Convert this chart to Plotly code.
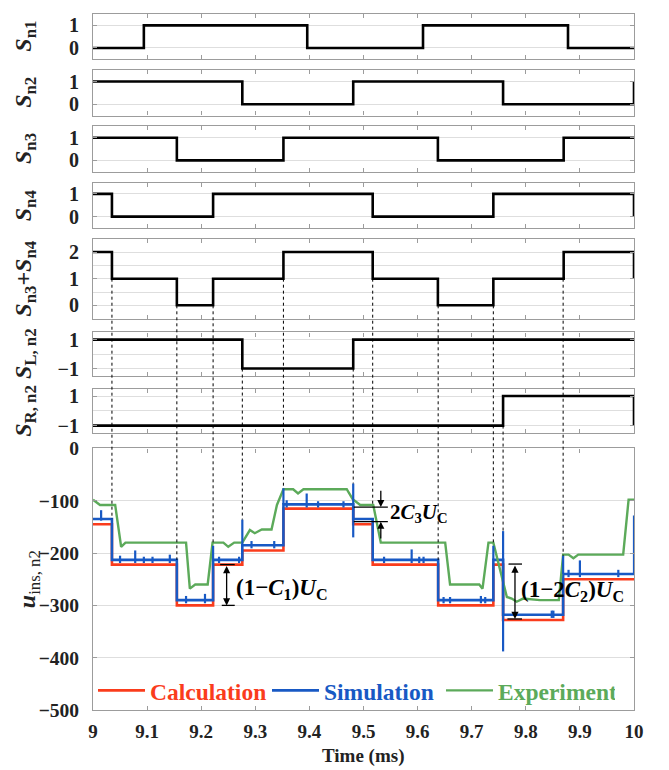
import plotly.graph_objects as go

# ---------------- data ----------------
t_sn1 = [9, 9.094, 9.396, 9.610, 9.878, 10]
v_sn1 = [0, 1, 0, 1, 0, 0]
t_sn2 = [9, 9.276, 9.481, 9.758, 10, 10]
v_sn2 = [1, 0, 1, 0, 0, 1]
t_sn3 = [9, 9.155, 9.352, 9.6375, 9.870, 10]
v_sn3 = [1, 0, 1, 0, 1, 1]
t_sn4 = [9, 9.035, 9.222, 9.517, 9.740, 10, 10]
v_sn4 = [1, 0, 1, 0, 1, 1, 0]
t_sum = [9, 9.035, 9.155, 9.222, 9.352, 9.517, 9.6375, 9.740, 9.870, 10, 10]
v_sum = [2, 1, 0, 1, 2, 1, 0, 1, 2, 2, 1]
t_sl = [9, 9.276, 9.481, 10]
v_sl = [1, -1, 1, 1]
t_sr = [9, 9.758, 10, 10]
v_sr = [-1, 1, 1, -1]

t_calc = [9, 9.035, 9.155, 9.222, 9.276, 9.352, 9.481, 9.517, 9.638, 9.740, 9.758, 9.869, 10]
v_calc = [-145, -222, -300, -222, -195, -115, -145, -222, -300, -222, -328, -250, -250]
t_sim = [9, 9.035, 9.155, 9.222, 9.276, 9.352, 9.481, 9.517, 9.638, 9.740, 9.758, 9.869, 10]
v_sim = [-135, -213, -290, -213, -185, -107, -135, -213, -290, -213, -318, -240, -240]
# simulation spikes (time, low, high)
spk_t = [9.015, 9.05, 9.078, 9.094, 9.110, 9.142, 9.172, 9.207, 9.222, 9.233, 9.270, 9.276,
         9.293, 9.335, 9.352, 9.358, 9.395, 9.416, 9.463, 9.481, 9.538, 9.589, 9.603, 9.611,
         9.648, 9.660, 9.717, 9.725, 9.740, 9.758, 9.848, 9.851, 9.869, 9.879, 9.900, 9.971, 10]
spk_lo = [-138, -219, -219, -219, -219, -219, -296, -296, -213, -219, -219, -185,
          -191, -191, -107, -113, -113, -113, -113, -170, -219, -219, -219, -219,
          -296, -296, -296, -296, -213, -388, -324, -324, -240, -246, -246, -246, -240]
spk_hi = [-118, -205, -195, -207, -207, -203, -282, -278, -186, -207, -207, -136,
          -177, -177, -76, -99, -86, -101, -101, -67, -207, -193, -207, -207,
          -284, -284, -282, -284, -186, -158, -310, -310, -205, -232, -214, -232, -128]

t_exp = [9, 9.013, 9.041, 9.052, 9.060, 9.172, 9.179, 9.189, 9.212, 9.221, 9.241, 9.250,
         9.261, 9.276, 9.290, 9.299, 9.312, 9.330, 9.340, 9.352, 9.370, 9.379, 9.389, 9.469,
         9.480, 9.494, 9.518, 9.532, 9.651, 9.660, 9.714, 9.720, 9.731, 9.740, 9.765, 9.774,
         9.783, 9.795, 9.826, 9.861, 9.869, 9.879, 9.888, 9.897, 9.980, 9.990, 10]
v_exp = [-98, -108, -108, -188, -180, -180, -268, -260, -260, -180, -180, -188,
         -180, -180, -156, -162, -155, -155, -108, -78, -78, -86, -78, -78,
         -97, -108, -108, -180, -180, -260, -260, -268, -180, -180, -284, -287,
         -293, -287, -290, -290, -203, -203, -210, -203, -203, -98, -98]

# dotted guide lines: time, start panel, start level, end level in bottom panel
guide_t = [9.035, 9.155, 9.222, 9.276, 9.352, 9.481, 9.517, 9.638, 9.740, 9.758, 9.869]
guide_panel = [5, 5, 5, 6, 5, 6, 5, 5, 5, 7, 5]
guide_start = [1, 0, 0, -1, 1, -1, 1, 0, 0, -1, 1]
guide_end = [-135, -213, -185, -136, -76, -67, -106, -213, -180, -158, -205]

x_ticks = [9, 9.1, 9.2, 9.3, 9.4, 9.5, 9.6, 9.7, 9.8, 9.9, 10]
x_ticktext = ["9", "9.1", "9.2", "9.3", "9.4", "9.5", "9.6", "9.7", "9.8", "9.9", "10"]

# ---------------- layout helpers ----------------
W, H = 669, 770
ML, MR, MT, MB = 93, 35, 3, 60
PW = W - ML - MR
PH = H - MT - MB
BOT = H - MB


def dom(top_px, bot_px):
    return [(BOT - bot_px) / PH, (BOT - top_px) / PH]


def py(px):
    return (BOT - px) / PH


def pxx(px):
    return (px - ML) / PW


panels = [
    dict(dom=dom(4, 50), rng=[-0.5, 1.5], tv=[0, 1], tt=["0", "1"], grid=[0, 1],
         title="<i>S</i><sub>n1</sub>"),
    dict(dom=dom(61, 107), rng=[-0.5, 1.5], tv=[0, 1], tt=["0", "1"], grid=[0, 1],
         title="<i>S</i><sub>n2</sub>"),
    dict(dom=dom(118, 164), rng=[-0.5, 1.5], tv=[0, 1], tt=["0", "1"], grid=[0, 1],
         title="<i>S</i><sub>n3</sub>"),
    dict(dom=dom(175, 221), rng=[-0.5, 1.5], tv=[0, 1], tt=["0", "1"], grid=[0, 1],
         title="<i>S</i><sub>n4</sub>"),
    dict(dom=dom(232, 313), rng=[-0.5, 2.5], tv=[0, 1, 2], tt=["0", "1", "2"],
         grid=[0, 0.5, 1, 1.5, 2],
         title="<i>S</i><sub>n3</sub>+<i>S</i><sub>n4</sub>"),
    dict(dom=dom(327, 371), rng=[-1.5, 1.5], tv=[-1, 1], tt=["\u22121", "1"], grid=[-1, 0, 1],
         title="<i>S</i><sub>L, n2</sub>"),
    dict(dom=dom(384, 429), rng=[-1.5, 1.5], tv=[-1, 1], tt=["\u22121", "1"], grid=[-1, 0, 1],
         title="<i>S</i><sub>R, n2</sub>"),
    dict(dom=dom(444.7, 710), rng=[-500, 0], tv=[-500, -400, -300, -200, -100, 0],
         tt=["\u2212500", "\u2212400", "\u2212300", "\u2212200", "\u2212100", "0"],
         grid=[-400, -300, -200, -100],
         title="<i>u</i><sub><span style='font-weight:normal'>ins, n2</span></sub>"),
]


def to_paper(p, v):
    d = panels[p - 1]["dom"]
    r = panels[p - 1]["rng"]
    return d[0] + (v - r[0]) / (r[1] - r[0]) * (d[1] - d[0])


FONT = "Liberation Serif"
FRAME = "#9c9c9c"
GRID = "#dedede"
RED = "#fa3c1c"
BLUE = "#1859c4"
GREEN = "#5caa5a"
TXT = "#222222"

fig = go.Figure()

sig = [(t_sn1, v_sn1), (t_sn2, v_sn2), (t_sn3, v_sn3), (t_sn4, v_sn4),
       (t_sum, v_sum), (t_sl, v_sl), (t_sr, v_sr)]
for i, (tt, vv) in enumerate(sig, start=1):
    fig.add_trace(go.Scatter(x=tt, y=vv, mode="lines", line=dict(color="black", width=2.6, shape="hv"),
                             xaxis=f"x{i}", yaxis=f"y{i}", showlegend=False, hoverinfo="skip"))

fig.add_trace(go.Scatter(x=t_calc, y=v_calc, mode="lines", name=f'<span style="color:{RED}">Calculation</span>',
                         line=dict(color=RED, width=2.6, shape="hv"), xaxis="x8", yaxis="y8"))
fig.add_trace(go.Scatter(x=t_sim, y=v_sim, mode="lines", name=f'<span style="color:{BLUE}">Simulation</span>',
                         line=dict(color=BLUE, width=2.6, shape="hv"), xaxis="x8", yaxis="y8"))
fig.add_trace(go.Scatter(x=t_exp, y=v_exp, mode="lines", name=f'<span style="color:{GREEN}">Experiment</span>',
                         line=dict(color=GREEN, width=2.4), xaxis="x8", yaxis="y8"))
sx, sy = [], []
for t, lo, hi in zip(spk_t, spk_lo, spk_hi):
    sx += [t, t, None]
    sy += [lo, hi, None]
fig.add_trace(go.Scatter(x=sx, y=sy, mode="lines", line=dict(color=BLUE, width=2.2),
                         xaxis="x8", yaxis="y8", showlegend=False, hoverinfo="skip"))

layout = dict(width=W, height=H, margin=dict(l=ML, r=MR, t=MT, b=MB),
              plot_bgcolor="white", paper_bgcolor="white",
              font=dict(family=FONT, color=TXT, weight="bold"), showlegend=True)

for i, p in enumerate(panels, start=1):
    last = i == len(panels)
    layout[f"xaxis{i}" if i > 1 else "xaxis"] = dict(
        domain=[0, 1], range=[9, 10], anchor=f"y{i}", tickvals=x_ticks, ticktext=x_ticktext,
        showticklabels=last, ticks="inside", ticklen=4, tickcolor=FRAME, showline=True,
        linecolor=FRAME, linewidth=1.2, mirror="ticks", showgrid=False, zeroline=False,
        tickfont=dict(family=FONT, size=19, color=TXT, weight="bold"), ticklabelstandoff=4,
    )
    layout[f"yaxis{i}" if i > 1 else "yaxis"] = dict(
        domain=p["dom"], range=p["rng"], anchor=f"x{i}", tickvals=p["tv"], ticktext=p["tt"],
        ticks="inside", ticklen=4, tickcolor=FRAME, showline=True, linecolor=FRAME, linewidth=1.2,
        mirror="ticks", showgrid=False, zeroline=False,
        tickfont=dict(family=FONT, size=20 if not last else 19.5, color=TXT, weight="bold"),
        ticklabelstandoff=9,
        minor=dict(tickvals=p["grid"], showgrid=True, gridcolor=GRID, gridwidth=1, ticks=""),
    )

layout["legend"] = dict(orientation="h", x=0, xanchor="left", y=to_paper(8, -463), yanchor="middle",
                        bgcolor="rgba(0,0,0,0)", font=dict(family=FONT, size=23.5, weight="bold"),
                        entrywidth=112, entrywidthmode="pixels", itemwidth=47, traceorder="normal")

shapes = []
for t, p, s, e in zip(guide_t, guide_panel, guide_start, guide_end):
    shapes.append(dict(type="line", xref="x8", yref="paper", x0=t, x1=t, y0=to_paper(p, s), y1=to_paper(8, e),
                       line=dict(color="black", width=1, dash="dot"), layer="above"))
# arrow caps / reference lines
cap = dict(type="line", xref="x8", yref="y8", line=dict(color="black", width=1.3), layer="above")
shapes += [
    dict(cap, x0=9.235, x1=9.262, y0=-222, y1=-222),
    dict(cap, x0=9.238, x1=9.262, y0=-300, y1=-300),
    dict(cap, x0=9.482, x1=9.545, y0=-112, y1=-112),
    dict(cap, x0=9.482, x1=9.545, y0=-140, y1=-140),
    dict(cap, x0=9.768, x1=9.793, y0=-221, y1=-221),
    dict(cap, x0=9.766, x1=9.793, y0=-326, y1=-326),
]
layout["shapes"] = shapes

ann = []
for i, p in enumerate(panels, start=1):
    mid = (p["dom"][0] + p["dom"][1]) / 2
    xpx = 25 if i < 8 else 29
    ann.append(dict(text=p["title"], xref="paper", yref="paper", x=pxx(xpx), y=mid,
                    textangle=-90, showarrow=False, xanchor="center", yanchor="middle",
                    font=dict(family=FONT, size=24, color=TXT, weight="bold")))
ann.append(dict(text="Time (ms)", xref="paper", yref="paper", x=0.5, y=py(757), showarrow=False,
                xanchor="center", yanchor="middle", font=dict(family=FONT, size=19, color=TXT, weight="bold")))

arr = dict(xref="x8", yref="y8", axref="x8", ayref="y8", text="", showarrow=True, arrowhead=2,
           arrowsize=1.1, arrowwidth=1.3, arrowcolor="black", standoff=0, startstandoff=0)
ann += [
    dict(arr, x=9.247, y=-300, ax=9.247, ay=-222, arrowside="end+start", startarrowhead=2, startarrowsize=1.1),
    dict(arr, x=9.780, y=-326, ax=9.780, ay=-221, arrowside="end+start", startarrowhead=2, startarrowsize=1.1),
    dict(arr, x=9.532, y=-112, ax=9.532, ay=-78),
    dict(arr, x=9.532, y=-140, ax=9.532, ay=-175),
]
tf = dict(family=FONT, size=23, color="black", weight="bold")
ann += [
    dict(text="(1\u2212<i>C</i><sub>1</sub>)<i>U</i><sub>C</sub>", xref="x8", yref="y8", x=9.261, y=-268,
         xanchor="left", yanchor="middle", showarrow=False, font=tf),
    dict(text="2<i>C</i><sub>3</sub><i>U</i><sub>C</sub>", xref="x8", yref="y8", x=9.546, y=-124,
         xanchor="left", yanchor="middle", showarrow=False, font=dict(tf, size=21)),
    dict(text="(1\u22122<i>C</i><sub>2</sub>)<i>U</i><sub>C</sub>", xref="x8", yref="y8", x=9.787, y=-272,
         xanchor="left", yanchor="middle", showarrow=False, font=tf),
]
layout["annotations"] = ann

fig.update_layout(**layout)
fig.write_html("out.html", config={"displayModeBar": False},
               post_script="document.body.style.margin='0px';document.body.style.overflow='hidden';")
